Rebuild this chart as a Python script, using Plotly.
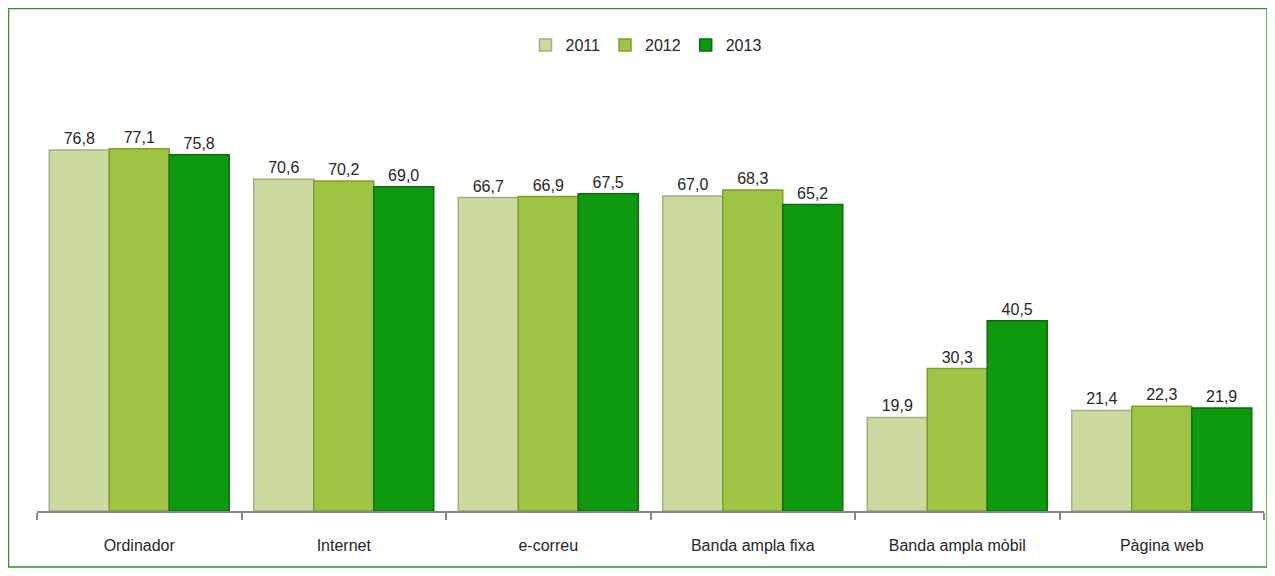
import plotly.graph_objects as go

categories = ["Ordinador", "Internet", "e-correu", "Banda ampla fixa", "Banda ampla mòbil", "Pàgina web"]
years = ["2011", "2012", "2013"]
v2011 = [76.8, 70.6, 66.7, 67.0, 19.9, 21.4]
v2012 = [77.1, 70.2, 66.9, 68.3, 30.3, 22.3]
v2013 = [75.8, 69.0, 67.5, 65.2, 40.5, 21.9]

series = [v2011, v2012, v2013]
colors = ["#cbdba0", "#9fc443", "#0e9a0e"]
lines = ["#a4ae82", "#7f9c36", "#0b6e0b"]

fig = go.Figure()
for name, vals, c, lc in zip(years, series, colors, lines):
    fig.add_trace(go.Bar(
        x=categories, y=vals, name=name,
        marker=dict(color=c, line=dict(color=lc, width=1.5)),
        text=[f"{v:.1f}".replace(".", ",") for v in vals],
        textposition="outside", cliponaxis=False,
        textfont=dict(size=16, color="#262626", family="Liberation Sans"),
    ))

# page is rendered with an 8px body offset; work in page pixels and convert
OFF = 8
W, H = 1275, 576
plot_l, plot_r, plot_t, plot_b = 37, 1264, 135, 511  # page px
ml = plot_l - OFF
mt = plot_t - OFF
mr = W - (plot_r - OFF)
mb = H - (plot_b - OFF)
pw, ph = W - ml - mr, H - mt - mb

def px_x(p):
    return (p - plot_l) / pw

def px_y(p):
    return (plot_b - p) / ph

fig.update_layout(
    width=W, height=H,
    margin=dict(l=ml, r=mr, t=mt, b=mb),
    paper_bgcolor="white", plot_bgcolor="white",
    barmode="group", bargap=0.12, bargroupgap=0.0,
    font=dict(family="Liberation Sans", size=16, color="#262626"),
    legend=dict(orientation="h", x=px_x(646), xanchor="center", y=px_y(45), yanchor="middle",
                font=dict(size=16), itemwidth=30, traceorder="normal"),
    xaxis=dict(showline=True, linecolor="#888888", linewidth=1.5, ticks="outside",
               tickson="boundaries", ticklen=7, tickcolor="#888888", tickwidth=1.5,
               ticklabelstandoff=19,
               tickfont=dict(size=16), showgrid=False),
    yaxis=dict(range=[0, 80], visible=False, showgrid=False),
    shapes=[dict(type="rect", xref="paper", yref="paper",
                 x0=px_x(8.5), x1=px_x(1267), y0=px_y(567), y1=px_y(8.5),
                 line=dict(color="#2f922a", width=1.5), fillcolor="rgba(0,0,0,0)")],
)

fig.write_html("out.html")
